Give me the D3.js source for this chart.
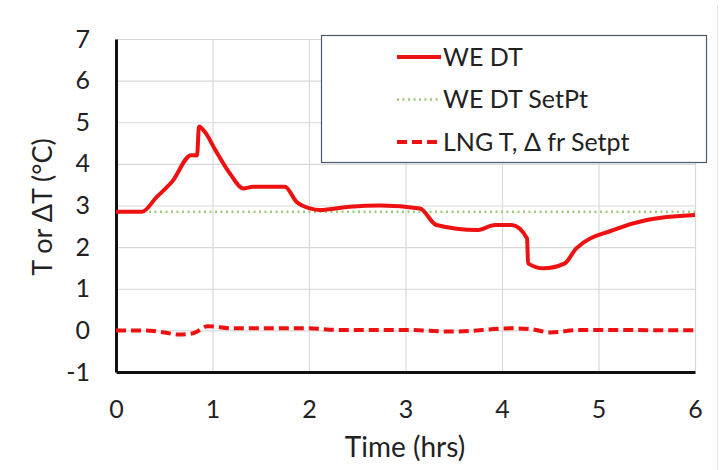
<!DOCTYPE html>
<html>
<head>
<meta charset="utf-8">
<script src="https://cdn.jsdelivr.net/npm/d3@7"></script>
<style>
  body { margin: 0; background: #fff; }
  text { font-family: Lato, "Open Sans", sans-serif; fill: #222; }
</style>
</head>
<body>
<svg id="chart" width="728" height="470"></svg>
<script>
// WE DT (time in hrs, deg C)
const weTime = [0, 0.27, 0.42, 0.58, 0.78, 0.84, 0.86, 0.92, 1.03, 1.18, 1.32, 1.42, 1.75, 1.87, 2.01, 2.11, 2.42, 2.74, 3.15, 3.32, 3.74, 3.93, 4.1, 4.26, 4.27, 4.43, 4.65, 4.77, 5.15, 5.5, 6];
const weVal  = [2.85, 2.85, 3.2, 3.57, 4.21, 4.2, 4.9, 4.77, 4.33, 3.77, 3.41, 3.45, 3.45, 3.09, 2.93, 2.89, 2.97, 3.0, 2.93, 2.53, 2.41, 2.53, 2.53, 2.21, 1.61, 1.49, 1.61, 1.97, 2.41, 2.65, 2.77];

// WE DT SetPt
const spTime = [0, 6];
const spVal  = [2.85, 2.85];

// LNG T, delta from setpoint
const lngTime = [0, 0.3, 0.5, 0.65, 0.8, 0.95, 1.2, 2, 2.3, 3, 3.5, 4.1, 4.3, 4.5, 4.8, 6];
const lngVal  = [0, 0, -0.05, -0.1, -0.07, 0.1, 0.05, 0.05, 0.01, 0.01, -0.03, 0.05, 0.03, -0.05, 0.01, 0];

const xTicks = [0, 1, 2, 3, 4, 5, 6];
const yTicks = [-1, 0, 1, 2, 3, 4, 5, 6, 7];

const legendNames = ["WE DT", "WE DT SetPt", "LNG T, \u0394 fr Setpt"];

const svg = d3.select('#chart');
const x = d3.scaleLinear().domain([0, 6]).range([116, 695]);
const y = d3.scaleLinear().domain([-1, 7]).range([372, 39]);

// gridlines
svg.append('g')
  .attr('transform', `translate(0,${y(-1)})`)
  .call(d3.axisBottom(x).tickValues(xTicks.slice(1)).tickSize(-(y(-1) - y(7))).tickFormat(''))
  .call(g => g.select('.domain').remove())
  .call(g => g.selectAll('line').attr('stroke', '#d9d9d9').attr('stroke-width', 1.2));
svg.append('g')
  .attr('transform', `translate(${x(0)},0)`)
  .call(d3.axisLeft(y).tickValues(yTicks.slice(1)).tickSize(-(x(6) - x(0))).tickFormat(''))
  .call(g => g.select('.domain').remove())
  .call(g => g.selectAll('line').attr('stroke', '#d9d9d9').attr('stroke-width', 1.2));

// axes
const xAxis = svg.append('g')
  .attr('transform', `translate(0,${y(-1)})`)
  .call(d3.axisBottom(x).tickValues(xTicks).tickSize(0).tickPadding(28).tickFormat(d => String(d)));
xAxis.select('.domain').attr('stroke', '#111').attr('stroke-width', 3);
xAxis.selectAll('text').style('font-size', '25px').attr('fill', '#222');

const yAxis = svg.append('g')
  .attr('transform', `translate(${x(0)},0)`)
  .call(d3.axisLeft(y).tickValues(yTicks).tickSize(0).tickPadding(26).tickFormat(d => String(d)));
yAxis.select('.domain').attr('stroke', '#111').attr('stroke-width', 3);
yAxis.selectAll('text').style('font-size', '25px').attr('fill', '#222');

svg.append('text')
  .attr('x', 405).attr('y', 457)
  .attr('text-anchor', 'middle')
  .style('font-size', '28px')
  .text('Time (hrs)');

svg.append('text')
  .attr('transform', 'translate(52,207) rotate(-90)')
  .attr('text-anchor', 'middle')
  .style('font-size', '27px')
  .text('T or \u0394T (\u00b0C)');

// lines
const line = d3.line().x(d => x(d[0])).y(d => y(d[1])).curve(d3.curveMonotoneX);
const styles = [
  { color: '#ee1111', width: 4, dash: null },
  { color: '#9ccc7c', width: 2.5, dash: '2,3.5' },
  { color: '#ee1111', width: 4, dash: '10,5' }
];
const series = [
  { data: d3.zip(spTime, spVal), style: styles[1] },
  { data: d3.zip(lngTime, lngVal), style: styles[2] },
  { data: d3.zip(weTime, weVal), style: styles[0] }
];
series.forEach(s => {
  svg.append('path')
    .datum(s.data)
    .attr('fill', 'none')
    .attr('stroke', s.style.color)
    .attr('stroke-width', s.style.width)
    .attr('stroke-dasharray', s.style.dash)
    .attr('stroke-linejoin', 'round')
    .attr('d', line);
});

// legend
const legend = svg.append('g');
legend.append('rect')
  .attr('x', 321.5).attr('y', 35.5).attr('width', 385).attr('height', 127)
  .attr('fill', '#fff').attr('stroke', '#4a5a6a').attr('stroke-width', 1.2);
legendNames.forEach((name, i) => {
  const ly = 57 + i * 42.5;
  legend.append('line')
    .attr('x1', 397).attr('x2', 441).attr('y1', ly).attr('y2', ly)
    .attr('stroke', styles[i].color)
    .attr('stroke-width', styles[i].width)
    .attr('stroke-dasharray', styles[i].dash);
  legend.append('text')
    .attr('x', 443).attr('y', ly)
    .attr('dy', '0.35em')
    .style('font-size', '25px')
    .text(name);
});

// faint image border on the right
svg.append('line')
  .attr('x1', 717.5).attr('x2', 717.5).attr('y1', 5).attr('y2', 470)
  .attr('stroke', '#e4e4e4').attr('stroke-width', 1);
</script>
</body>
</html>
